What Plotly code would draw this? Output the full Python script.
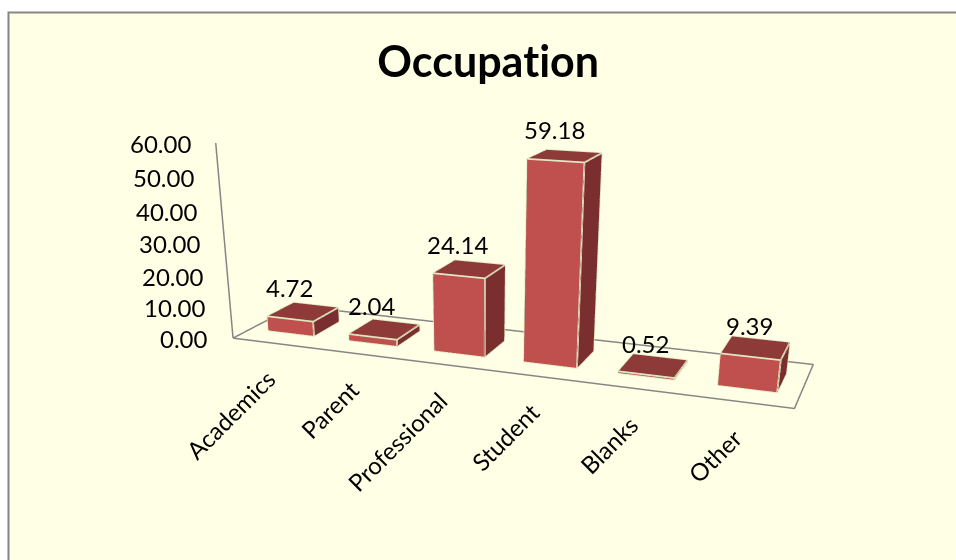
import plotly.graph_objects as go

categories = ["Academics", "Parent", "Professional", "Student", "Blanks", "Other"]
values = [4.72, 2.04, 24.14, 59.18, 0.52, 9.39]
z_ticks = [0, 10, 20, 30, 40, 50, 60]

W, FIG_H = 956, 1000   # taller scene => longer focal length; only the top 560 px are in the window
BAR_W, BAR_D = 0.5689, 0.4319
FRONT, TOP, SIDE = "#C0504D", "#8E3A38", "#7A2F2E"
EDGE, AXIS = "#E0E9C4", "#868686"
FONT = "Lato"

fig = go.Figure()
for i, v in enumerate(values):
    x0, x1 = i + 0.5 - BAR_W / 2, i + 0.5 + BAR_W / 2
    y0, y1 = 0.5 - BAR_D / 2, 0.5 + BAR_D / 2
    fig.add_trace(go.Mesh3d(
        x=[x0, x1, x1, x0, x0, x1, x1, x0], y=[y0, y0, y1, y1, y0, y0, y1, y1], z=[0, 0, 0, 0, v, v, v, v],
        i=[0, 0, 4, 4, 0, 0, 1, 1, 2, 2, 3, 3], j=[1, 2, 5, 6, 1, 5, 2, 6, 3, 7, 0, 4], k=[2, 3, 6, 7, 5, 4, 6, 5, 7, 6, 4, 7],
        facecolor=[SIDE] * 2 + [TOP] * 2 + [FRONT] * 2 + [SIDE] * 2 + [TOP] * 2 + [SIDE] * 2,
        flatshading=True, lighting=dict(ambient=1, diffuse=0, specular=0, fresnel=0), hoverinfo="skip", showscale=False))
    fig.add_trace(go.Scatter3d(
        x=[x0, x1, x1, x0, x0, None, x0, x1, x1, x0, x0, None, x0, x0, None, x1, x1, None, x1, x1],
        y=[y0, y0, y1, y1, y0, None, y0, y0, y1, y1, y0, None, y0, y0, None, y0, y0, None, y1, y1],
        z=[0, 0, 0, 0, 0, None, v, v, v, v, v, None, 0, v, None, 0, v, None, 0, v],
        mode="lines", line=dict(color=EDGE, width=3.5), hoverinfo="skip", showlegend=False))
n = len(categories)
fig.add_trace(go.Scatter3d(x=[0, n, n, 0, 0, None, 0, 0], y=[0, 0, 1, 1, 0, None, 0, 0], z=[0, 0, 0, 0, 0, None, 0, z_ticks[-1]],
                           mode="lines", line=dict(color=AXIS, width=3), hoverinfo="skip", showlegend=False))

font = dict(family=FONT, size=24, color="#000000")
ann = []
for t in z_ticks:
    ann.append(dict(x=0, y=0, z=t, text=f"{t:.2f}", showarrow=False, xanchor="right", xshift=-23, font=font))
for i, c in enumerate(categories):
    ann.append(dict(x=i + 0.5, y=0, z=0, text=c, showarrow=False, xanchor="right", yanchor="top", textangle=-45,
                    xshift=10, yshift=-18, font=font))
for i, v in enumerate(values):
    ann.append(dict(x=i + 0.5, y=0.5 - BAR_D / 2, z=v, text=f"{v:.2f}", showarrow=False, yshift=31, xshift=-1, font=font))

hidden = dict(visible=False)
fig.update_layout(
    width=W, height=FIG_H, margin=dict(l=0, r=0, t=0, b=0), showlegend=False, paper_bgcolor="white",
    scene=dict(domain=dict(x=[0, 1], y=[0, 1]), bgcolor="rgba(0,0,0,0)",
               xaxis=dict(range=[0, n], autorange=False, **hidden),
               yaxis=dict(range=[0, 1], autorange=False, **hidden),
               zaxis=dict(range=[0, z_ticks[-1]], autorange=False, **hidden),
               aspectmode="manual", aspectratio=dict(x=2.0, y=0.4557, z=0.6861),
               camera=dict(eye=dict(x=1.3560, y=-3.8384, z=0.9687), center=dict(x=0.1177, y=-0.6509, z=-0.6194),
                           up=dict(x=0, y=0, z=1), projection=dict(type="perspective")),
               annotations=ann),
    shapes=[dict(type="rect", xref="paper", yref="paper", x0=8.5 / W, x1=1.01, y0=-0.01, y1=1 - 12.5 / FIG_H,
                 fillcolor="#FFFFE5", line=dict(color=AXIS, width=2), layer="below")],
    annotations=[dict(xref="paper", yref="paper", x=488 / W, y=1 - 60 / FIG_H, xanchor="center", yanchor="middle",
                      text="<b>Occupation</b>", showarrow=False, font=dict(family=FONT, size=43, color="#000000"))])
post = ("document.body.style.margin='0';document.documentElement.style.overflow='hidden';document.body.style.overflow='hidden';"
        "var st=document.createElement('style');st.textContent='text{font-variant-ligatures:none!important;letter-spacing:0.01px}';document.head.appendChild(st);")
fig.write_html("out.html", config=dict(displayModeBar=False), post_script=post)
